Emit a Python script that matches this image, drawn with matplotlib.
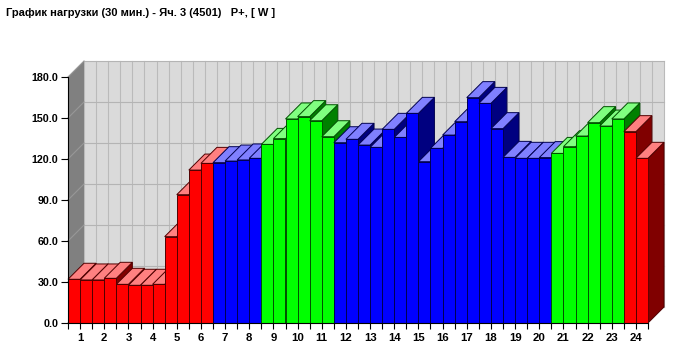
import matplotlib
matplotlib.use("Agg")
import matplotlib.pyplot as plt
from matplotlib.patches import Polygon

# ---------------- data ----------------
hours = list(range(1, 25))
# half-hour values (2 per hour)
values = [32.0, 31.5, 31.5, 32.7, 28.3, 27.6, 27.6, 28.3, 63.2, 93.9, 111.9, 116.8,
          117.3, 118.5, 119.3, 120.5, 130.7, 134.9, 149.3, 151.0, 148.0, 136.3,
          131.9, 134.4, 130.2, 128.5, 141.7, 135.8, 153.4, 118.0, 127.8, 137.5,
          147.3, 164.9, 160.7, 142.2, 121.2, 120.5, 120.5, 121.0,
          124.1, 129.0, 136.8, 146.6, 144.1, 149.3, 140.0, 120.5]
# tariff zone of each hour: r = red, b = blue, g = green
zones = ['r'] * 6 + ['b'] * 2 + ['g'] * 3 + ['b'] * 9 + ['g'] * 3 + ['r']
yticks = [0, 30, 60, 90, 120, 150, 180]
title = "График нагрузки (30 мин.) - Яч. 3 (4501)   P+, [ W ]"

palette = {
    'r': dict(front='#ff0000', top='#ff8080', side='#800000', edge='#500000'),
    'b': dict(front='#0000ff', top='#8080ff', side='#000080', edge='#000050'),
    'g': dict(front='#00ff00', top='#80ff80', side='#008000', edge='#005000'),
}

W, H, DPI = 678, 347, 100
fig = plt.figure(figsize=(W / DPI, H / DPI), dpi=DPI, facecolor='white')
L, R, B, T = 68, 648, 323, 77
ax = fig.add_axes([L / W, 1 - B / H, (R - L) / W, (B - T) / H])
nb = len(values)
ymax = yticks[-1]
ax.set_xlim(0, nb)
ax.set_ylim(0, ymax)
ax.set_facecolor('none')

depth_px = 16
DX = depth_px * nb / (R - L)
DY = depth_px * ymax / (B - T)

# back wall
ax.add_patch(Polygon([(DX, DY), (nb + DX, DY), (nb + DX, ymax + DY), (DX, ymax + DY)],
                     closed=True, facecolor='#dadada', edgecolor='none', zorder=0.2, clip_on=False))
for i in range(nb + 1):
    ax.plot([i + DX, i + DX], [DY, ymax + DY], color='#bababa', lw=0.8, zorder=0.3, clip_on=False)
for v in yticks:
    ax.plot([DX, nb + DX], [v + DY, v + DY], color='#b4b4b4', lw=0.8, zorder=0.3, clip_on=False)
# left wall
ax.add_patch(Polygon([(0, 0), (DX, DY), (DX, ymax + DY), (0, ymax)],
                     closed=True, facecolor='#808080', edgecolor='none', zorder=0.4, clip_on=False))
for v in yticks:
    ax.plot([0, DX], [v, v + DY], color='#979797', lw=0.8, zorder=0.45, clip_on=False)

# bars
colors = [zones[i // 2] for i in range(nb)]
xs = list(range(nb))
bars = ax.bar(xs, values, width=1.0, align='edge',
              color=[palette[c]['front'] for c in colors],
              edgecolor=[palette[c]['edge'] for c in colors], linewidth=0.7)
for i, (bar, v, c) in enumerate(zip(bars, values, colors)):
    z = 3 + i * 0.01
    bar.set_zorder(z + 0.006)
    p = palette[c]
    side = Polygon([(i + 1, 0), (i + 1 + DX, DY), (i + 1 + DX, v + DY), (i + 1, v)],
                   closed=True, facecolor=p['side'], edgecolor=p['edge'], lw=0.7,
                   zorder=z, clip_on=False)
    top = Polygon([(i, v), (i + 1, v), (i + 1 + DX, v + DY), (i + DX, v + DY)],
                  closed=True, facecolor=p['top'], edgecolor=p['edge'], lw=0.7,
                  zorder=z + 0.003, clip_on=False)
    ax.add_patch(side)
    ax.add_patch(top)

# axes
for s in ['top', 'right']:
    ax.spines[s].set_visible(False)
ax.spines['left'].set_color('#000000')
ax.spines['bottom'].set_color('#000000')
ax.spines['left'].set_linewidth(0.8)
ax.spines['bottom'].set_linewidth(0.8)
ax.spines['left'].set_zorder(10)
ax.spines['bottom'].set_zorder(10)

fp = dict(family=['Liberation Sans', 'DejaVu Sans'], weight='bold', size=7.7)
fpx = dict(family=['Liberation Sans', 'DejaVu Sans'], weight='bold', size=8.2)
ax.set_yticks(yticks)
ax.set_yticklabels([f"{v:.1f}" for v in yticks], fontdict=fp)
ax.set_xticks(range(nb + 1))
ax.set_xticklabels([str(hours[(i - 1) // 2]) if i % 2 == 1 else '' for i in range(nb + 1)], fontdict=fpx)
ax.tick_params(axis='y', length=5, width=0.8, pad=2, color='#000000')
ax.tick_params(axis='x', length=4, width=0.8, pad=3, color='#000000')

fig.text(6 / W, 1 - 13 / H, title, ha='left', va='center',
         family=['Liberation Sans', 'DejaVu Sans'], weight='bold', size=8.0)

fig.savefig('out.png', dpi=DPI, facecolor='white')
